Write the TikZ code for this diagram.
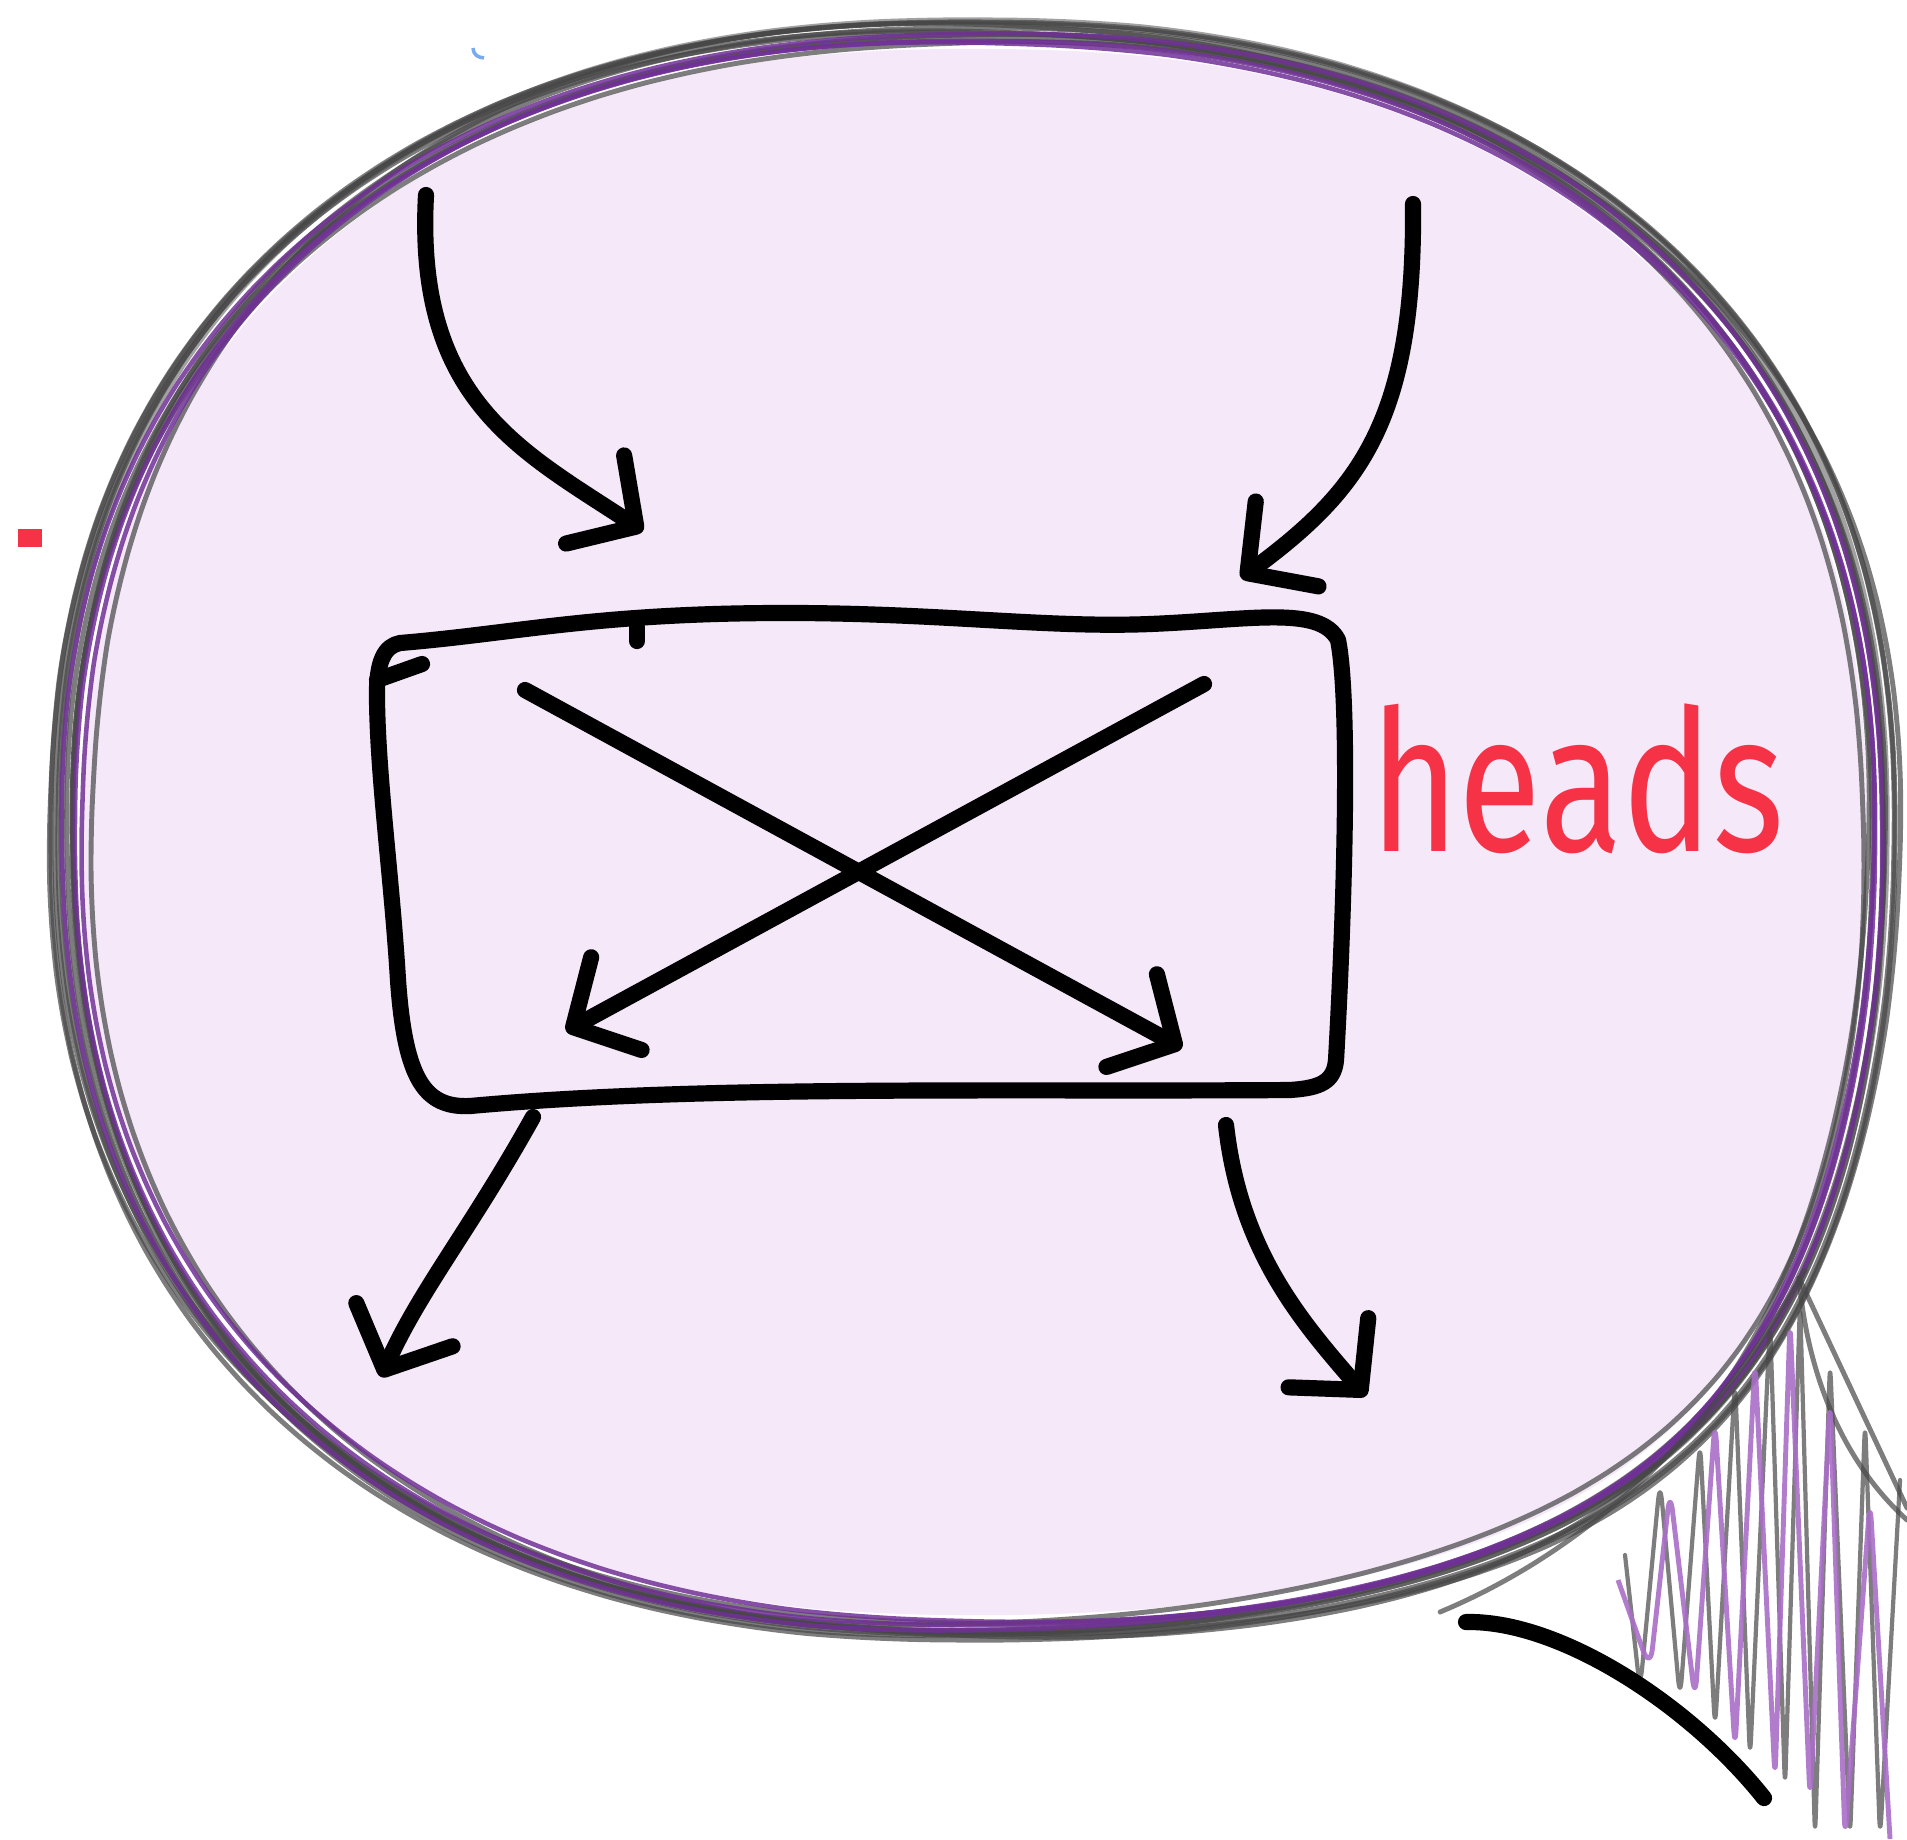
\documentclass[tikz,border=0pt]{standalone}
\usepackage{fontspec}
\newfontfamily\manofont{Fira Sans}
\usetikzlibrary{arrows.meta}
\definecolor{lila}{RGB}{244,232,249}
\definecolor{grafito}{RGB}{70,70,70}
\definecolor{morado}{RGB}{112,48,150}
\definecolor{moradoclaro}{RGB}{170,110,200}
\definecolor{rojo}{RGB}{245,50,70}
\definecolor{azul}{RGB}{120,170,240}
\tikzset{
  trazo/.style={line width=4.6pt, line cap=round, line join=round},
  flecha/.style={trazo, -{Straight Barb[round, length=14pt, width=30pt]}},
  lapiz/.style={grafito, line width=1.4pt, opacity=0.7, line cap=round},
  lapizmorado/.style={morado, line width=1.3pt, opacity=0.85, line cap=round},
  rayado/.style={lapiz, line width=1.2pt, line join=round, rounded corners=6pt},
  rayadomorado/.style={moradoclaro, line width=1.4pt, line join=round, opacity=0.9, rounded corners=6pt},
  etiqueta/.style={text=rojo, anchor=base, inner sep=0pt,
    font=\manofont\fontsize{56}{56}\selectfont},
}
% contorno del globo (superelipse, mas cuadrada abajo a la derecha)
\newcommand{\globo}[4]{plot[smooth cycle, domain=2:359, samples=120, variable=\t]
  ({#1+#3*sign(cos(\t))*abs(cos(\t))^((\t<90) ? (0.87-0.12*sin(2*\t)) : 0.87)},
   {#2+#4*sign(sin(\t))*abs(sin(\t))^((\t<90) ? (0.87-0.12*sin(2*\t)) : 0.87)})}
\begin{document}
\begin{tikzpicture}[x=0.01cm, y=-0.01cm]
  \useasboundingbox (0,0) rectangle (1907,1839);
  % Globo
  \fill[lila] \globo{975}{832}{892}{783};
  \draw[lapiz] \globo{973}{831}{922}{809};
  \draw[lapiz, rotate around={1.5:(975,832)}] \globo{975}{835}{908}{800};
  \draw[lapiz, rotate around={-1:(975,832)}] \globo{970}{828}{915}{795};
  \draw[lapiz] \globo{978}{830}{905}{802};
  \draw[lapiz, rotate around={-2:(975,832)}] \globo{975}{832}{925}{800};
  \draw[lapiz, rotate around={0.8:(975,832)}] \globo{972}{834}{900}{796};
  \draw[lapiz, rotate around={-0.5:(975,832)}] \globo{976}{829}{918}{806};
  \draw[lapiz, rotate around={2.5:(975,832)}] \globo{968}{833}{895}{790};
  \draw[lapiz, rotate around={-2.8:(975,832)}] \globo{980}{830}{888}{805};
  \draw[lapiz, line width=2pt, opacity=0.5] \globo{974}{826}{912}{805};
  \draw[lapizmorado] \globo{975}{833}{900}{792};
  \draw[lapizmorado, rotate around={1:(975,832)}] \globo{972}{832}{910}{798};
  \draw[lapizmorado, rotate around={-1.5:(975,832)}] \globo{978}{832}{896}{789};
  % Cola
  \draw[lapiz] (1799,1278) -- (1907,1508);
  \draw[lapiz] (1799,1278) .. controls (1805,1350) and (1830,1450) .. (1907,1520);
  \draw[lapiz] (1805,1270) .. controls (1720,1420) and (1600,1545) .. (1440,1612);
  \draw[rayado] (1625,1555) -- (1640,1690) -- (1660,1480) -- (1680,1700) -- (1700,1440)
    -- (1715,1730) -- (1735,1380) -- (1750,1760) -- (1770,1320) -- (1785,1790)
    -- (1800,1300) -- (1815,1839) -- (1830,1360) -- (1850,1839) -- (1865,1420)
    -- (1880,1839) -- (1900,1480);
  \draw[rayadomorado] (1618,1580) -- (1650,1670) -- (1670,1490) -- (1695,1700)
    -- (1715,1420) -- (1735,1750) -- (1755,1360) -- (1775,1780) -- (1790,1320)
    -- (1810,1800) -- (1830,1400) -- (1845,1839) -- (1870,1500) -- (1890,1839);
  \draw[trazo] (1466,1622) .. controls (1560,1620) and (1690,1705) .. (1764,1798);
  % Marcas sueltas
  \fill[rojo] (18,529) rectangle (42,547);
  \draw[azul, line width=1pt] (473,48) .. controls (474,56) and (478,57) .. (484,58);
  % Caja
  \draw[trazo] (400,643) .. controls (520,633) and (600,612) .. (800,613)
    .. controls (950,614) and (1050,628) .. (1150,624)
    .. controls (1250,620) and (1320,605) .. (1338,640)
    .. controls (1350,700) and (1345,900) .. (1336,1060)
    .. controls (1334,1082) and (1320,1088) .. (1290,1090)
    .. controls (1000,1092) and (700,1085) .. (470,1106)
    .. controls (425,1108) and (405,1080) .. (398,980)
    .. controls (392,880) and (378,780) .. (377,700)
    .. controls (376,660) and (385,646) .. (400,643);
  \draw[trazo] (637,627) -- (637,641);
  \draw[trazo] (377,680) -- (422,664);
  % Extremos de las flechas
  \coordinate (arribaIzq) at (426,195);
  \coordinate (entraIzq) at (643,531);
  \coordinate (arribaDer) at (1413,204);
  \coordinate (entraDer) at (1241,578);
  \coordinate (cruzA) at (525,690);
  \coordinate (cruzAfin) at (1182,1048);
  \coordinate (cruzB) at (1204,684);
  \coordinate (cruzBfin) at (566,1031);
  \coordinate (saleIzq) at (533,1117);
  \coordinate (abajoIzq) at (381,1377);
  \coordinate (saleDer) at (1226,1125);
  \coordinate (abajoDer) at (1366,1396);
  % Flechas
  \draw[flecha] (arribaIzq) .. controls (415,400) and (520,450) .. (entraIzq);
  \draw[flecha] (arribaDer) .. controls (1415,420) and (1360,490) .. (entraDer);
  \draw[flecha] (cruzA) -- (cruzAfin);
  \draw[flecha] (cruzB) -- (cruzBfin);
  \draw[flecha] (saleIzq) .. controls (470,1230) and (420,1290) .. (abajoIzq);
  \draw[flecha] (saleDer) .. controls (1240,1250) and (1300,1320) .. (abajoDer);
  % Etiqueta
  \node[etiqueta] (heads) at (1577,851) {\scalebox{0.77}[1]{heads}};
\end{tikzpicture}
\end{document}
